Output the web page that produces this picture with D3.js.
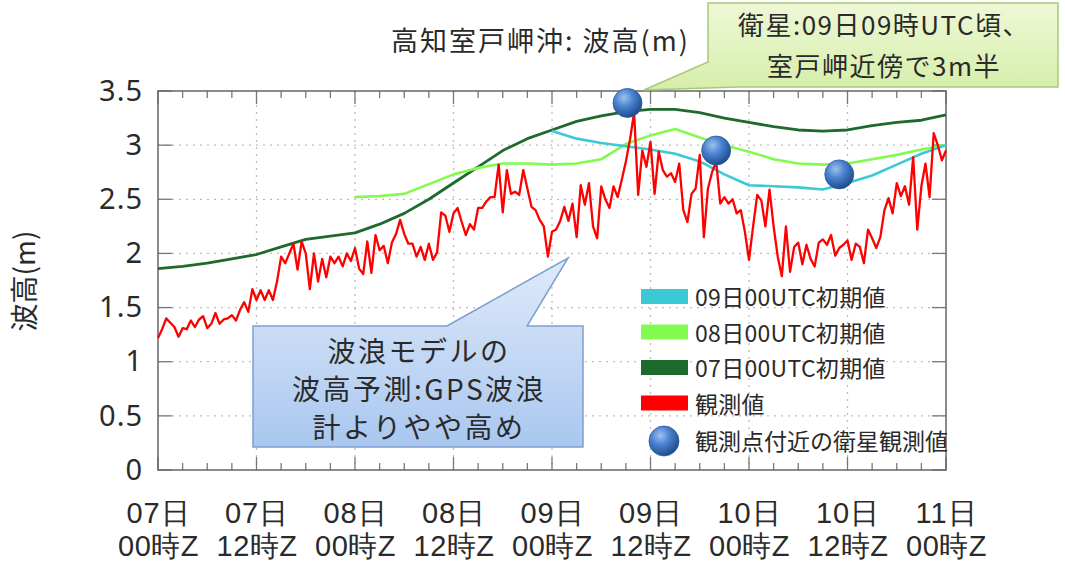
<!DOCTYPE html>
<html><head><meta charset="utf-8">
<script src="https://cdn.jsdelivr.net/npm/d3@7"></script>
<style>
html,body{margin:0;padding:0;background:#fff;}
svg{display:block;font-family:"Noto Sans CJK JP","Noto Sans",sans-serif;}
</style></head>
<body><svg id="c" width="1065" height="566"></svg>
<script>
// ---- data ----
const xTickHours = [0,12,24,36,48,60,72,84,96];
const xTickDays = ["07日","07日","08日","08日","09日","09日","10日","10日","11日"];
const xTickTimes = ["00時Z","12時Z","00時Z","12時Z","00時Z","12時Z","00時Z","12時Z","00時Z"];
const yTicks = [0,0.5,1,1.5,2,2.5,3,3.5];
const yTickLabels = ["0","0.5","1","1.5","2","2.5","3","3.5"];

const model07Hours = [0,3,6,9,12,15,18,21,24,27,30,33,36,39,42,45,48,51,54,57,60,63,66,69,72,75,78,81,84,87,90,93,96];
const model07Values = [1.86,1.88,1.91,1.95,1.99,2.06,2.13,2.16,2.19,2.27,2.37,2.50,2.65,2.80,2.95,3.06,3.14,3.22,3.27,3.31,3.33,3.33,3.30,3.25,3.21,3.17,3.14,3.13,3.14,3.18,3.21,3.23,3.28];

const model08Hours = [24,27,30,33,36,39,42,45,48,51,54,57,60,63,66,69,72,75,78,81,84,87,90,93,96];
const model08Values = [2.52,2.53,2.55,2.64,2.73,2.79,2.83,2.83,2.82,2.83,2.87,3.01,3.09,3.15,3.07,3.00,2.94,2.87,2.83,2.82,2.83,2.87,2.91,2.96,3.00];

const model09Hours = [48,51,54,57,60,63,66,69,72,75,78,81,84,87,90,93,96];
const model09Values = [3.13,3.06,3.02,2.99,2.96,2.92,2.85,2.73,2.63,2.62,2.61,2.59,2.65,2.72,2.82,2.92,3.00];

const obsStartHour = 0, obsStepHours = 0.5;
const obsValues = [
1.22,1.30,1.40,1.36,1.32,1.23,1.31,1.30,1.38,1.32,1.39,1.42,1.31,1.35,1.45,1.35,1.39,1.40,1.43,1.38,
1.48,1.55,1.46,1.67,1.57,1.66,1.57,1.66,1.57,1.74,1.97,1.91,2.00,2.09,1.85,2.11,2.00,1.67,2.00,1.74,
1.95,1.78,1.97,1.91,1.97,1.88,2.00,1.93,2.05,1.86,1.81,2.11,1.82,2.17,2.03,2.07,1.91,2.10,2.18,2.31,
2.18,2.09,2.09,1.97,2.06,1.94,2.09,1.94,2.01,2.38,2.35,2.20,2.37,2.42,2.29,2.17,2.27,2.22,2.42,2.42,
2.48,2.52,2.52,2.82,2.38,2.77,2.55,2.57,2.54,2.77,2.60,2.43,2.40,2.31,2.25,1.97,2.20,2.22,2.30,2.43,
2.30,2.46,2.15,2.63,2.45,2.65,2.25,2.14,2.62,2.50,2.42,2.62,2.52,2.68,2.85,3.05,3.30,2.54,2.95,2.80,
3.03,2.55,2.94,2.77,2.71,2.74,2.66,2.83,2.40,2.29,2.55,2.60,2.91,2.15,2.60,2.75,2.85,2.46,2.52,2.46,
2.50,2.37,2.40,2.20,1.94,2.25,2.54,2.49,2.25,2.59,2.25,1.97,1.79,2.25,1.83,2.06,2.10,1.90,2.08,1.95,
1.88,2.10,2.13,2.08,2.17,1.98,2.05,2.08,2.12,1.94,2.09,2.06,1.91,2.22,2.14,2.05,2.15,2.40,2.51,2.37,
2.65,2.53,2.62,2.45,2.89,2.22,2.62,2.83,2.52,3.11,3.00,2.86,2.95];

const satHours = [57.2,68,83];
const satValues = [3.39,2.95,2.73];

const legendLabels = ["09日00UTC初期値","08日00UTC初期値","07日00UTC初期値","観測値"];
const legendColors = ["#3cc9d6","#80fb4e","#1d6a2c","#ff0000"];
const satLegendLabel = "観測点付近の衛星観測値";
const titleText = "高知室戸岬沖: 波高(m)";
const yAxisTitle = "波高(m)";
const satNote = ["衛星:09日09時UTC頃、","室戸岬近傍で3m半"];
const modelNote = ["波浪モデルの","波高予測:GPS波浪","計よりやや高め"];

// ---- chart ----
const svg = d3.select("#c");
const L=158,R=946,T=91,B=470;
const x = d3.scaleLinear().domain([0,96]).range([L,R]);
const y = d3.scaleLinear().domain([0,3.5]).range([B,T]);
const txt = "#2a2a2a";

const defs = svg.append("defs");
const rg = defs.append("radialGradient").attr("id","ball").attr("cx","38%").attr("cy","32%").attr("r","70%");
rg.append("stop").attr("offset","0%").attr("stop-color","#9cc2f0");
rg.append("stop").attr("offset","45%").attr("stop-color","#4a82cf");
rg.append("stop").attr("offset","100%").attr("stop-color","#1d4a8c");
const bg = defs.append("linearGradient").attr("id","blueBox").attr("x1",0).attr("y1",0).attr("x2",0).attr("y2",1);
bg.append("stop").attr("offset","0%").attr("stop-color","#dfeafa");
bg.append("stop").attr("offset","100%").attr("stop-color","#a9c7ef");
const gg = defs.append("linearGradient").attr("id","greenBox").attr("x1",0).attr("y1",0).attr("x2",0).attr("y2",1);
gg.append("stop").attr("offset","0%").attr("stop-color","#eef8d6");
gg.append("stop").attr("offset","100%").attr("stop-color","#d6eeaa");

// gridlines
svg.append("g").selectAll("line").data(yTicks.slice(1,-1)).join("line")
  .attr("x1",L).attr("x2",R).attr("y1",d=>y(d)).attr("y2",d=>y(d))
  .attr("stroke","#bdbdbd").attr("stroke-width",1.3).attr("stroke-dasharray","2,5");
svg.append("g").selectAll("line").data(xTickHours.slice(1,-1)).join("line")
  .attr("y1",T).attr("y2",B).attr("x1",d=>x(d)).attr("x2",d=>x(d))
  .attr("stroke","#bdbdbd").attr("stroke-width",1.3).attr("stroke-dasharray","2,5");

// ticks (inward, both sides)
const minorH = d3.range(0,97,3);
const tg = svg.append("g").attr("stroke","#777").attr("stroke-width",1.3);
minorH.forEach(h=>{
  const len = (h%12===0)?13:7;
  tg.append("line").attr("x1",x(h)).attr("x2",x(h)).attr("y1",B).attr("y2",B-len);
  tg.append("line").attr("x1",x(h)).attr("x2",x(h)).attr("y1",T).attr("y2",T+len);
});
yTicks.forEach(v=>{
  tg.append("line").attr("x1",L).attr("x2",L+14).attr("y1",y(v)).attr("y2",y(v));
  tg.append("line").attr("x1",R).attr("x2",R-14).attr("y1",y(v)).attr("y2",y(v));
});
svg.append("rect").attr("x",L).attr("y",T).attr("width",R-L).attr("height",B-T)
  .attr("fill","none").attr("stroke","#666").attr("stroke-width",1.5);

// axis labels via d3 axes (text only)
const yAx = svg.append("g").attr("transform",`translate(${L},0)`)
  .call(d3.axisLeft(y).tickValues(yTicks).tickFormat((d,i)=>yTickLabels[i]).tickSize(0).tickPadding(15));
yAx.select(".domain").remove();
yAx.selectAll("text").attr("font-size",29).attr("fill",txt).attr("letter-spacing",1)
  .attr("font-family","'Noto Sans','DejaVu Sans',sans-serif");

const xAx = svg.append("g").attr("transform",`translate(0,${B})`)
  .call(d3.axisBottom(x).tickValues(xTickHours).tickFormat("").tickSize(0));
xAx.select(".domain").remove();
xAx.selectAll(".tick").each(function(d,i){
  const g = d3.select(this);
  g.append("text").attr("y",53).attr("text-anchor","middle").attr("font-size",29).attr("letter-spacing",1).attr("fill",txt).text(xTickDays[i]);
  g.append("text").attr("y",86).attr("text-anchor","middle").attr("font-size",29).attr("letter-spacing",0.5).attr("fill",txt).text(xTickTimes[i]);
});

svg.append("text").attr("transform","translate(35,281) rotate(-90)").attr("text-anchor","middle")
  .attr("font-size",28).attr("fill",txt).text(yAxisTitle);

svg.append("text").attr("x",391).attr("y",51).attr("font-size",27).attr("letter-spacing",2).attr("fill",txt).text(titleText);

// lines
const line = d3.line().x(d=>x(d[0])).y(d=>y(d[1]));
const series = [
  {h:model07Hours,v:model07Values,c:legendColors[2],w:2.8},
  {h:model08Hours,v:model08Values,c:legendColors[1],w:2.6},
  {h:model09Hours,v:model09Values,c:legendColors[0],w:2.6},
];
series.forEach(s=>{
  svg.append("path").datum(s.h.map((h,i)=>[h,s.v[i]])).attr("d",line)
    .attr("fill","none").attr("stroke",s.c).attr("stroke-width",s.w).attr("stroke-linejoin","round");
});
svg.append("path").datum(obsValues.map((v,i)=>[obsStartHour+i*obsStepHours,v])).attr("d",line)
  .attr("fill","none").attr("stroke","#ff0000").attr("stroke-width",2.3).attr("stroke-linejoin","round");

// satellite balls
svg.append("g").selectAll("circle").data(satHours.map((h,i)=>[h,satValues[i]])).join("circle")
  .attr("cx",d=>x(d[0])).attr("cy",d=>y(d[1])).attr("r",14.5).attr("fill","url(#ball)")
  .attr("stroke","#2a5a9a").attr("stroke-width",0.8);

// legend
const lg = svg.append("g");
legendLabels.forEach((t,i)=>{
  const yy = 297 + i*35.5;
  lg.append("rect").attr("x",641).attr("y",yy-8).attr("width",47).attr("height",15).attr("fill",legendColors[i]);
  lg.append("text").attr("x",695).attr("y",yy+9).attr("font-size",23).attr("letter-spacing",0.3).attr("fill",txt).text(t);
});
lg.append("circle").attr("cx",664).attr("cy",441).attr("r",15).attr("fill","url(#ball)").attr("stroke","#2a5a9a").attr("stroke-width",0.8);
lg.append("text").attr("x",695).attr("y",450).attr("font-size",23).attr("fill",txt).text(satLegendLabel);

// green callout
svg.append("path").attr("d","M708,3 H1058 V87 H738 L644,90 L708,62 Z")
  .attr("fill","url(#greenBox)").attr("stroke","#a9c97a").attr("stroke-width",1.5);
satNote.forEach((t,i)=>svg.append("text").attr("x",884).attr("y",35+i*41).attr("text-anchor","middle")
  .attr("font-size",26).attr("letter-spacing",1.5).attr("fill",txt).text(t));

// blue callout
svg.append("path").attr("d","M253,326 H447 L568,258 L527,326 H583 V447 H253 Z")
  .attr("fill","url(#blueBox)").attr("stroke","#7d9fcf").attr("stroke-width",1.5);
modelNote.forEach((t,i)=>svg.append("text").attr("x",419).attr("y",362+i*38).attr("text-anchor","middle")
  .attr("font-size",28).attr("letter-spacing",2.5).attr("fill",txt).text(t));
</script></body></html>
